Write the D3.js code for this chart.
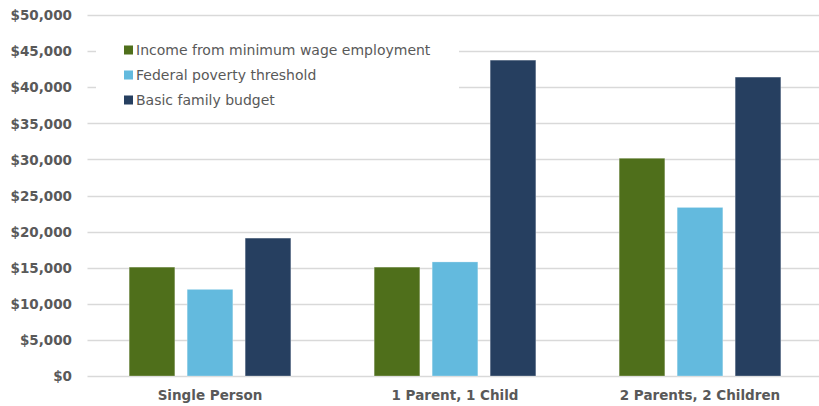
<!DOCTYPE html>
<html><head><meta charset="utf-8">
<script src="https://cdn.jsdelivr.net/npm/d3@7"></script>
<style>
html,body{margin:0;padding:0;background:#fff;}
svg{display:block;}
</style></head>
<body>
<svg id="chart" width="819" height="406"></svg>
<script>
const categories = ["Single Person", "1 Parent, 1 Child", "2 Parents, 2 Children"];
const seriesNames = ["Income from minimum wage employment", "Federal poverty threshold", "Basic family budget"];
const minWage = [15080, 15080, 30160];
const poverty = [12000, 15800, 23350];
const budget = [19100, 43750, 41400];
const yTicks = [0, 5000, 10000, 15000, 20000, 25000, 30000, 35000, 40000, 45000, 50000];
const colors = ["#4f6f1b", "#63bade", "#263f60"];

const series = [minWage, poverty, budget];
const svg = d3.select("#chart");
const fontFam = "'DejaVu Sans', sans-serif";

const plotLeft = 87.5, plotRight = 822.5, plotTop = 15, plotBottom = 376;
const y = d3.scaleLinear().domain([0, 50000]).range([plotBottom, plotTop]);
const x0 = d3.scaleBand().domain(categories).range([plotLeft, plotRight]).paddingInner(0).paddingOuter(0);
const bw = 45.7, gap = 12.3;
const groupW = bw * 3 + gap * 2;

// gridlines
svg.append("g").selectAll("line").data(yTicks).join("line")
  .attr("x1", plotLeft).attr("x2", 819)
  .attr("y1", d => Math.round(y(d)) + 0.5).attr("y2", d => Math.round(y(d)) + 0.5)
  .attr("stroke", "#d9d9d9").attr("stroke-width", 1.3);

// y axis labels
const yAxis = d3.axisLeft(y).tickValues(yTicks).tickSize(0).tickPadding(0)
  .tickFormat(d => "$" + d3.format(",")(d));
const ga = svg.append("g").attr("transform", `translate(72,0)`).call(yAxis);
ga.select(".domain").remove();
ga.selectAll("text").attr("font-family", fontFam).attr("font-size", 13.5).attr("font-weight", 700)
  .attr("fill", "#595959").attr("dy", "0.35em");

// bars
const barG = svg.append("g");
categories.forEach((c, ci) => {
  const start = x0(c) + x0.bandwidth() / 2 - groupW / 2;
  series.forEach((s, si) => {
    barG.append("rect")
      .attr("x", start + si * (bw + gap))
      .attr("y", y(s[ci]))
      .attr("width", bw)
      .attr("height", y(0) - y(s[ci]))
      .attr("fill", colors[si])
      .attr("stroke", "rgba(255,255,255,0.35)").attr("stroke-width", 0.8);
  });
});

// x axis labels
const xAxis = d3.axisBottom(x0).tickSize(0).tickPadding(0);
const gx = svg.append("g").attr("transform", `translate(0,${plotBottom})`).call(xAxis);
gx.select(".domain").remove();
gx.selectAll("text").attr("font-family", fontFam).attr("font-size", 13.5).attr("font-weight", 700)
  .attr("fill", "#595959").attr("y", 24).attr("dy", 0);

// legend
const lg = svg.append("g");
lg.append("rect").attr("x", 96).attr("y", 30).attr("width", 363).attr("height", 85).attr("fill", "#fff");
seriesNames.forEach((n, i) => {
  const yy = 50 + i * 25;
  lg.append("rect").attr("x", 124).attr("y", yy - 4.5).attr("width", 9).attr("height", 9).attr("fill", colors[i]);
  lg.append("text").attr("x", 136).attr("y", yy).attr("dy", "0.35em")
    .attr("font-family", fontFam).attr("font-size", 14).attr("fill", "#595959").text(n);
});
</script>
</body></html>
